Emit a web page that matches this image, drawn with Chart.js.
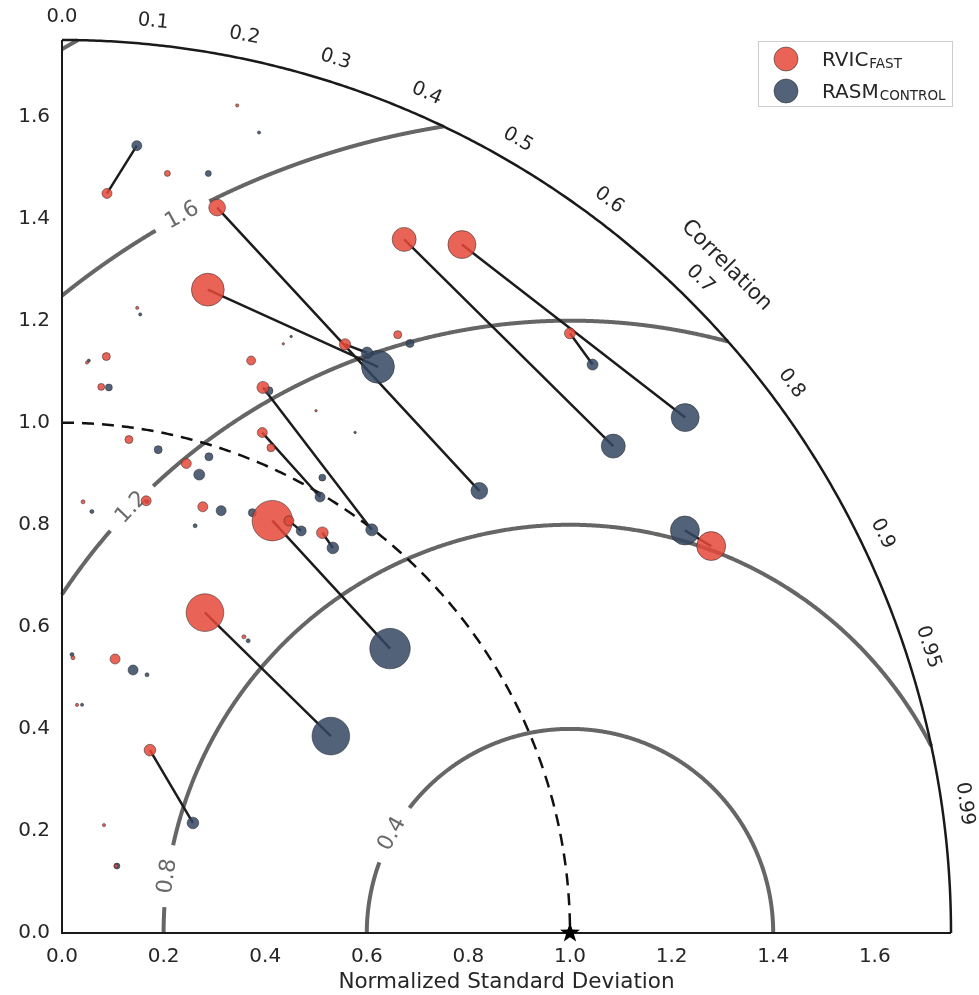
<!DOCTYPE html>
<html>
<head>
<meta charset="utf-8">
<script src="https://cdn.jsdelivr.net/npm/chart.js@4/dist/chart.umd.min.js"></script>
<style>html,body{margin:0;padding:0;background:#fff}canvas{display:block}</style>
</head>
<body>
<canvas id="taylor" width="979" height="995"></canvas>
<script>
// Basins shown with both models: normalized standard deviation and correlation
const PAIR_RVIC_STD  = [1.452, 1.454, 1.293, 1.517, 1.562, 1.543, 1.140, 1.057, 0.908, 0.923, 0.937, 0.688, 0.398, 1.486, 1.281];
const PAIR_RVIC_CORR = [0.061, 0.210, 0.222, 0.444, 0.504, 0.648, 0.347, 0.373, 0.456, 0.484, 0.547, 0.409, 0.435, 0.860, 0.435];
const PAIR_RASM_STD  = [1.550, 1.194, 1.272, 1.445, 1.589, 1.527, 0.998, 0.994, 0.853, 0.918, 0.924, 0.655, 0.336, 1.458, 1.286];
const PAIR_RASM_CORR = [0.095, 0.688, 0.489, 0.751, 0.772, 0.684, 0.611, 0.511, 0.757, 0.513, 0.577, 0.808, 0.767, 0.841, 0.467];
const PAIR_WEIGHT    = [25, 70, 270, 144, 196, 30, 36, 25, 410, 25, 34, 355, 34, 210, 32];

// Remaining small basins
const RVIC_STD  = [1.658, 1.503, 1.234, 1.133, 1.073, 1.119, 1.182, 1.234, 0.976, 0.952, 0.846, 0.863, 0.880, 1.036, 0.540, 0.547, 0.448, 0.682, 0.227, 0.169, 1.346, 1.139, 0.191];
const RVIC_CORR = [0.208, 0.138, 0.120, 0.077, 0.072, 0.044, 0.315, 0.353, 0.135, 0.257, 0.049, 0.192, 0.315, 0.397, 0.040, 0.191, 0.066, 0.525, 0.364, 0.629, 0.491, 0.439, -0.052];
const RVIC_WEIGHT = [2.5, 9, 2.5, 16, 12, 2.5, 20, 1.5, 16, 25, 4, 25, 25, 16, 4, 25, 2.5, 4, 2.5, 4, 16, 1.5, 3];

const RASM_STD  = [1.616, 1.516, 1.222, 1.169, 1.123, 1.073, 1.253, 0.966, 0.977, 0.938, 0.828, 0.885, 0.905, 0.840, 0.546, 0.534, 0.533, 0.449, 0.680, 0.170, 1.343, 1.029, 1.138, 0.192, 1.138, 0.862];
const RASM_CORR = [0.240, 0.190, 0.126, -0.010, 0.047, 0.086, 0.360, 0.196, 0.296, 0.288, 0.071, 0.354, 0.414, 0.312, 0.036, 0.262, 0.314, 0.088, 0.539, 0.636, 0.510, 0.498, 0.507, -0.051, 0.358, 0.194];
const RASM_WEIGHT = [2.5, 9, 2.5, 9, 2.5, 12, 1.5, 16, 16, 30, 4, 25, 16, 4, 4, 25, 4, 2.5, 4, 9, 16, 12, 1.5, 4, 16, 4];

// Axis ticks and diagram levels
const STD_TICKS = [0, 0.2, 0.4, 0.6, 0.8, 1.0, 1.2, 1.4, 1.6];
const CORR_TICKS = [0, 0.1, 0.2, 0.3, 0.4, 0.5, 0.6, 0.7, 0.8, 0.9, 0.95, 0.99];
const CORR_TICK_LABELS = ['0.0', '0.1', '0.2', '0.3', '0.4', '0.5', '0.6', '0.7', '0.8', '0.9', '0.95', '0.99'];
const RMS_LEVELS = [0.4, 0.8, 1.2, 1.6, 2.0];
const RMS_LABELS = ['0.4', '0.8', '1.2', '1.6', null];
const STD_MAX = 1.75;
const REF_STD = 1.0;

const RED = 'rgba(229,72,56,0.85)';
const BLUE = 'rgba(52,71,97,0.85)';
const EDGE = 'rgba(40,40,40,0.65)';
const TEXT = '#262626';
const FONT = '"DejaVu Sans", "Liberation Sans", sans-serif';

// where along each RMS circle (degrees about the reference point) its label sits
const RMS_LABEL_ANGLE = [151, 172, 136, 118.5, null];

Chart.defaults.font.family = FONT;

const toXY = (s, r) => ({ x: s * r, y: s * Math.sqrt(1 - r * r) });
const bubble = (s, r, w) => Object.assign(toXY(s, r), { r: Math.sqrt(w) });

const rvicPoints = PAIR_RVIC_STD.map((s, i) => bubble(s, PAIR_RVIC_CORR[i], PAIR_WEIGHT[i]))
  .concat(RVIC_STD.map((s, i) => bubble(s, RVIC_CORR[i], RVIC_WEIGHT[i])));
const rasmPoints = PAIR_RASM_STD.map((s, i) => bubble(s, PAIR_RASM_CORR[i], PAIR_WEIGHT[i]))
  .concat(RASM_STD.map((s, i) => bubble(s, RASM_CORR[i], RASM_WEIGHT[i])));

const links = [];
PAIR_RVIC_STD.forEach((s, i) => {
  const a = toXY(s, PAIR_RVIC_CORR[i]);
  const b = toXY(PAIR_RASM_STD[i], PAIR_RASM_CORR[i]);
  links.push(a, b, { x: b.x, y: null });
});

const taylorFrame = {
  id: 'taylorFrame',
  beforeDatasetsDraw(chart) {
    const { ctx } = chart;
    const X = chart.scales.x, Y = chart.scales.y;
    const P = (x, y) => ({ x: X.getPixelForValue(x), y: Y.getPixelForValue(y) });
    ctx.save();

    // centred RMS difference circles around the reference
    ctx.font = '22px ' + FONT;
    RMS_LEVELS.forEach((R, i) => {
      const c = (STD_MAX * STD_MAX - REF_STD * REF_STD - R * R) / (2 * R * REF_STD);
      const a0 = c >= 1 ? 0 : Math.acos(Math.max(-1, c));
      const a1 = R > REF_STD ? Math.acos(-REF_STD / R) : Math.PI;
      if (a1 <= a0) return;
      const pt = a => P(REF_STD + R * Math.cos(a), R * Math.sin(a));
      const txt = RMS_LABELS[i];
      let Lp = null, gap = 0, la = 0;
      if (txt && RMS_LABEL_ANGLE[i] != null) {
        la = RMS_LABEL_ANGLE[i] * Math.PI / 180;
        Lp = pt(la);
        gap = ctx.measureText(txt).width + 26;
      }
      ctx.strokeStyle = '#666666';
      ctx.lineWidth = 4;
      ctx.beginPath();
      let pen = false;
      const N = 800;
      for (let k = 0; k <= N; k++) {
        const p = pt(a0 + (a1 - a0) * k / N);
        if (Lp && Math.hypot(p.x - Lp.x, p.y - Lp.y) < gap / 2) { pen = false; continue; }
        if (!pen) { ctx.moveTo(p.x, p.y); pen = true; } else ctx.lineTo(p.x, p.y);
      }
      ctx.stroke();
      if (Lp) {
        const p1 = pt(la + 0.01), p2 = pt(la - 0.01);
        let rot = Math.atan2(p2.y - p1.y, p2.x - p1.x);
        if (rot > Math.PI / 2) rot -= Math.PI;
        if (rot < -Math.PI / 2) rot += Math.PI;
        ctx.save();
        ctx.translate(Lp.x, Lp.y);
        ctx.rotate(rot);
        ctx.fillStyle = '#6a6a6a';
        ctx.textAlign = 'center';
        ctx.textBaseline = 'middle';
        ctx.fillText(txt, 0, 0);
        ctx.restore();
      }
    });

    // reference standard deviation arc
    ctx.strokeStyle = '#111';
    ctx.lineWidth = 2.5;
    ctx.setLineDash([12, 8]);
    ctx.beginPath();
    for (let k = 0; k <= 300; k++) {
      const t = Math.PI / 2 * (1 - k / 300);
      const p = P(REF_STD * Math.cos(t), REF_STD * Math.sin(t));
      k ? ctx.lineTo(p.x, p.y) : ctx.moveTo(p.x, p.y);
    }
    ctx.stroke();
    ctx.setLineDash([]);

    // outer boundary and spines
    ctx.strokeStyle = '#1a1a1a';
    ctx.lineWidth = 2.5;
    ctx.beginPath();
    for (let k = 0; k <= 400; k++) {
      const t = Math.PI / 2 * k / 400;
      const p = P(STD_MAX * Math.cos(t), STD_MAX * Math.sin(t));
      k ? ctx.lineTo(p.x, p.y) : ctx.moveTo(p.x, p.y);
    }
    ctx.stroke();
    ctx.lineWidth = 2;
    const o = P(0, 0), top = P(0, STD_MAX), right = P(STD_MAX, 0);
    ctx.beginPath();
    ctx.moveTo(top.x, top.y); ctx.lineTo(o.x, o.y); ctx.lineTo(right.x, right.y);
    ctx.stroke();

    // correlation labels along the outer arc
    ctx.fillStyle = TEXT;
    ctx.textAlign = 'center';
    ctx.textBaseline = 'middle';
    ctx.font = '19.5px ' + FONT;
    const RL = 1.795;
    CORR_TICKS.forEach((r, i) => {
      const t = Math.acos(r);
      const p = P(RL * Math.cos(t), RL * Math.sin(t));
      ctx.save();
      ctx.translate(p.x, p.y);
      ctx.rotate(Math.PI / 2 - t);
      ctx.fillText(CORR_TICK_LABELS[i], 0, 0);
      ctx.restore();
    });
    ctx.font = '21.5px ' + FONT;
    const tc = Math.PI / 4, pc = P(1.85 * Math.cos(tc), 1.85 * Math.sin(tc));
    ctx.save();
    ctx.translate(pc.x, pc.y);
    ctx.rotate(Math.PI / 2 - tc);
    ctx.fillText('Correlation', 0, 0);
    ctx.restore();
    ctx.restore();
  },
  afterDatasetsDraw(chart) {
    const { ctx } = chart;
    const cx = chart.scales.x.getPixelForValue(REF_STD), cy = chart.scales.y.getPixelForValue(0);
    ctx.save();
    ctx.fillStyle = '#000';
    ctx.beginPath();
    for (let k = 0; k < 10; k++) {
      const rr = k % 2 ? 4.2 : 10.5;
      const a = -Math.PI / 2 + k * Math.PI / 5;
      const x = cx + rr * Math.cos(a), y = cy + rr * Math.sin(a);
      k ? ctx.lineTo(x, y) : ctx.moveTo(x, y);
    }
    ctx.closePath();
    ctx.fill();
    ctx.restore();
  },
  afterDraw(chart) {
    const { ctx, chartArea } = chart;
    const w = 195, h = 66;
    const x0 = chartArea.right + 2 - w, y0 = chartArea.top + 1;
    ctx.save();
    ctx.fillStyle = '#fff';
    ctx.strokeStyle = '#cccccc';
    ctx.lineWidth = 1;
    ctx.fillRect(x0, y0, w, h);
    ctx.strokeRect(x0 + 0.5, y0 + 0.5, w - 1, h - 1);
    const items = [[RED, 'RVIC', 'FAST', 18], [BLUE, 'RASM', 'CONTROL', 50]];
    items.forEach(([col, main, sub, dy]) => {
      ctx.beginPath();
      ctx.arc(x0 + 28, y0 + dy, 12, 0, Math.PI * 2);
      ctx.fillStyle = col; ctx.fill();
      ctx.strokeStyle = EDGE; ctx.lineWidth = 0.8; ctx.stroke();
      ctx.fillStyle = TEXT;
      ctx.textAlign = 'left';
      ctx.textBaseline = 'alphabetic';
      ctx.font = '20px ' + FONT;
      ctx.fillText(main, x0 + 64, y0 + dy + 7);
      const mw = ctx.measureText(main).width;
      ctx.font = '13.5px ' + FONT;
      ctx.fillText(sub, x0 + 64 + mw + 1, y0 + dy + 9);
    });
    ctx.restore();
  }
};

const tickCfg = {
  font: { size: 20 },
  color: TEXT,
  autoSkip: false,
  maxRotation: 0,
  callback: v => Number(v).toFixed(1)
};

new Chart(document.getElementById('taylor'), {
  type: 'bubble',
  data: {
    datasets: [
      {
        type: 'line', data: links, borderColor: '#1c1c1c', borderWidth: 2.5,
        pointRadius: 0, pointHoverRadius: 0, spanGaps: false, fill: false, order: 3, clip: false
      },
      {
        label: 'RASM', data: rasmPoints, backgroundColor: BLUE, borderColor: EDGE,
        borderWidth: 0.8, hoverRadius: 0, order: 2, clip: false
      },
      {
        label: 'RVIC', data: rvicPoints, backgroundColor: RED, borderColor: EDGE,
        borderWidth: 0.8, hoverRadius: 0, order: 1, clip: false
      }
    ]
  },
  options: {
    responsive: false,
    animation: false,
    devicePixelRatio: 1,
    events: [],
    layout: { padding: { top: 40, right: 28, left: 0, bottom: 0 } },
    plugins: { legend: { display: false }, tooltip: { enabled: false } },
    scales: {
      x: {
        type: 'linear', min: 0, max: STD_MAX,
        grid: { display: false, drawTicks: false }, border: { display: false },
        ticks: Object.assign({ padding: 12 }, tickCfg),
        afterBuildTicks: s => { s.ticks = STD_TICKS.map(v => ({ value: v })); },
        afterFit: s => { s.height = 62; },
        title: { display: true, text: 'Normalized Standard Deviation', color: TEXT, font: { size: 21.5 }, padding: { top: 0, bottom: 0 } }
      },
      y: {
        type: 'linear', min: 0, max: STD_MAX,
        grid: { display: false, drawTicks: false }, border: { display: false },
        ticks: Object.assign({ padding: 12 }, tickCfg),
        afterBuildTicks: s => { s.ticks = STD_TICKS.map(v => ({ value: v })); },
        afterFit: s => { s.width = 62; }
      }
    }
  },
  plugins: [taylorFrame]
});
</script>
</body>
</html>
